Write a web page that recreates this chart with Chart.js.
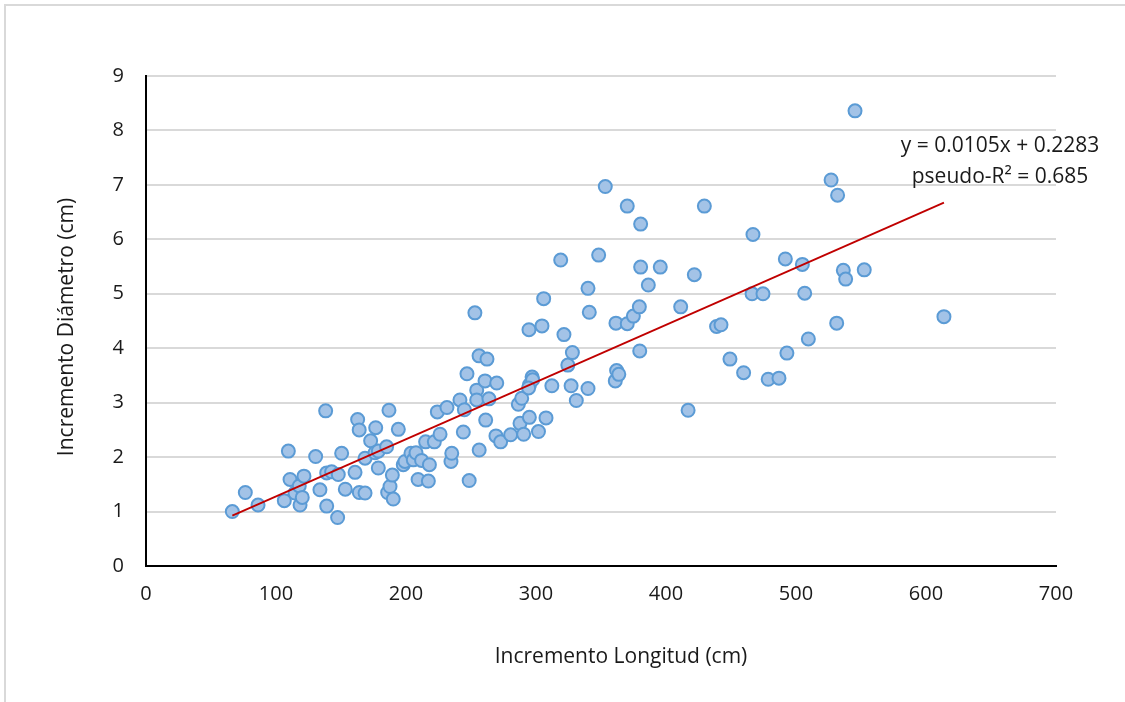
<!DOCTYPE html>
<html lang="es"><head>
  <meta charset="UTF-8">
  <title>Incremento Diámetro vs Longitud</title>
  <script src="https://cdn.jsdelivr.net/npm/chart.js"></script>
  <style>
    body {
      margin: 0;
      background: #fff;
      overflow: hidden;
    }
    .frame {
      position: absolute;
      left: 4px;
      top: 4px;
      width: 1200px;
      height: 800px;
      border: 2px solid #d9d9d9;
    }
    #chart {
      position: absolute;
      left: 0;
      top: 0;
    }
  </style>
</head><body>
<div class="frame"></div>
<canvas id="chart" width="1125" height="702"></canvas>
<script>
    // Incremento Longitud (cm)
    const longitud = [
      66.4, 76.4, 86.2, 106.4, 109.5, 110.8, 114.6, 117.9, 118.5, 120.2,
      121.5, 130.5, 133.8, 138.2, 139, 139, 142.8, 147.4, 147.9, 150.5,
      153.3, 160.8, 162.8, 164, 164.1, 168.5, 168.5, 172.8, 176.2, 176.7,
      178.7, 178.7, 185.1, 185.9, 186.9, 187.7, 189.5, 190.2, 194.1, 197.9,
      199.2, 203.8, 205.6, 207.7, 209.3, 212, 215.1, 217.2, 218, 221.8,
      224.1, 226.2, 231.5, 234.6, 235.2, 241.5, 244.1, 244.9, 246.9, 248.6,
      253, 254.4, 254.4, 256.2, 256.3, 260.8, 261.3, 262.3, 263.8, 269.2,
      269.8, 272.8, 280.5, 286.4, 287.7, 289, 290.5, 294.6, 295, 294.9,
      297, 297.4, 294.3, 301.9, 304.6, 305.9, 307.7, 312.2, 319, 321.5,
      324.5, 327, 328, 331, 340, 340, 341, 348.2, 353.3, 361,
      361.5, 362, 363.7, 370.2, 370.2, 374.9, 379.5, 379.8, 380.5, 380.5,
      386.4, 395.6, 411.3, 417, 421.8, 429.5, 438.9, 442.3, 449.2, 459.7,
      466.2, 466.9, 474.6, 478.6, 486.9, 491.8, 493, 504.9, 506.7, 509.5,
      527, 531.3, 532, 536.4, 538.2, 545.4, 552.5, 613.8
    ];
    // Incremento Diámetro (cm)
    const diametro = [
      1.00, 1.35, 1.12, 1.20, 2.11, 1.59, 1.34, 1.47, 1.12, 1.26,
      1.65, 2.01, 1.40, 2.85, 1.71, 1.10, 1.73, 0.89, 1.68, 2.07,
      1.41, 1.72, 2.69, 2.50, 1.35, 1.98, 1.34, 2.30, 2.08, 2.54,
      2.11, 1.80, 2.19, 1.35, 2.86, 1.46, 1.67, 1.23, 2.51, 1.86,
      1.92, 2.07, 1.95, 2.08, 1.59, 1.94, 2.28, 1.56, 1.86, 2.28,
      2.83, 2.42, 2.91, 1.92, 2.07, 3.05, 2.46, 2.87, 3.53, 1.57,
      4.65, 3.23, 3.05, 3.86, 2.13, 3.40, 2.68, 3.80, 3.07, 2.39,
      3.36, 2.28, 2.41, 2.97, 2.62, 3.08, 2.42, 4.34, 3.33, 2.73,
      3.47, 3.42, 3.27, 2.47, 4.41, 4.91, 2.72, 3.31, 5.62, 4.25,
      3.69, 3.31, 3.92, 3.04, 3.26, 5.10, 4.66, 5.71, 6.97, 3.40,
      4.46, 3.59, 3.52, 6.61, 4.45, 4.59, 4.76, 3.95, 6.28, 5.49,
      5.16, 5.49, 4.76, 2.86, 5.35, 6.61, 4.40, 4.43, 3.80, 3.55,
      5.00, 6.09, 5.00, 3.43, 3.45, 5.64, 3.91, 5.54, 5.01, 4.17,
      7.09, 4.46, 6.81, 5.43, 5.27, 8.36, 5.44, 4.58
    ];

    // trend line: y = 0.0105x + 0.2283
    const pendiente = 0.0105;
    const intercepto = 0.2283;
    const etiquetaRecta = ['y = 0.0105x + 0.2283', 'pseudo-R² = 0.685'];
    const tituloX = 'Incremento Longitud (cm)';
    const tituloY = 'Incremento Diámetro (cm)';

    const xMax = 700, xStep = 100;
    const yMax = 9, yStep = 1;

    const puntos = longitud.map((x, i) => ({ x: x, y: diametro[i] }));
    const xIni = Math.min(...longitud);
    const xFin = Math.max(...longitud);
    const recta = [
      { x: xIni, y: pendiente * xIni + intercepto },
      { x: xFin, y: pendiente * xFin + intercepto }
    ];

    const fontFamily = '"Open Sans", sans-serif';
    const textColor = '#1a1a1a';

    // axis titles and the trend line equation, placed off the chart area
    const textLabels = {
      id: 'textLabels',
      afterDraw(chart) {
        const ctx = chart.ctx;
        const area = chart.chartArea;
        ctx.save();
        ctx.font = '21px ' + fontFamily;
        ctx.fillStyle = textColor;
        ctx.textAlign = 'center';
        ctx.textBaseline = 'middle';
        ctx.fillText(tituloX, (area.left + area.right) / 2 + 20, area.bottom + 91);

        ctx.save();
        ctx.translate(area.left - 79, (area.top + area.bottom) / 2 + 6);
        ctx.rotate(-Math.PI / 2);
        ctx.fillText(tituloY, 0, 0);
        ctx.restore();

        ctx.fillText(etiquetaRecta[0], 1000, 146);
        ctx.fillText(etiquetaRecta[1], 1000, 177);
        ctx.restore();
      }
    };

    const ctx = document.getElementById('chart').getContext('2d');
    new Chart(ctx, {
      type: 'scatter',
      data: {
        datasets: [
          {
            type: 'line',
            data: recta,
            borderColor: '#c00000',
            borderWidth: 1.8,
            pointRadius: 0,
            fill: false,
            order: 0
          },
          {
            data: puntos,
            backgroundColor: '#a3c3e7',
            borderColor: '#5b9bd5',
            borderWidth: 2,
            pointRadius: 6.5,
            order: 1
          }
        ]
      },
      options: {
        responsive: false,
        animation: false,
        layout: { padding: { left: 50, right: 69, top: 76, bottom: 28 } },
        plugins: {
          legend: { display: false },
          tooltip: { enabled: false }
        },
        scales: {
          x: {
            type: 'linear',
            min: 0,
            max: xMax,
            afterFit(scale) { scale.height = 108; },
            grid: { display: false, drawTicks: false },
            border: { color: '#000', width: 2 },
            ticks: {
              stepSize: xStep,
              padding: 16,
              color: textColor,
              font: { family: fontFamily, size: 20 }
            }
          },
          y: {
            min: 0,
            max: yMax,
            afterFit(scale) { scale.width = 96; },
            grid: { color: '#d9d9d9', lineWidth: 2, drawTicks: false },
            border: { color: '#000', width: 2 },
            ticks: {
              stepSize: yStep,
              padding: 22,
              color: textColor,
              font: { family: fontFamily, size: 20 }
            }
          }
        }
      },
      plugins: [textLabels]
    });
</script>
</body></html>
